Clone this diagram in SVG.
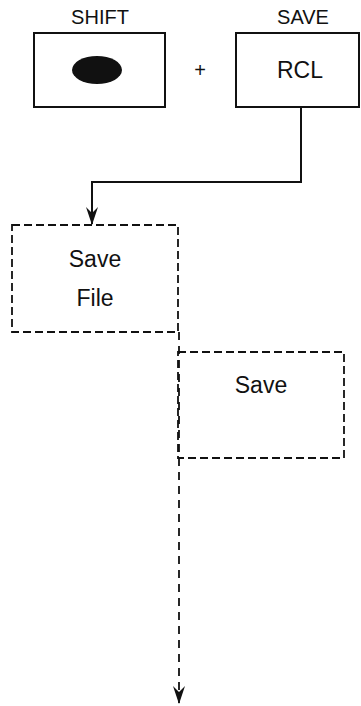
<svg xmlns="http://www.w3.org/2000/svg" width="361" height="706" viewBox="0 0 361 706">
<style>
.box{fill:none;stroke:#111;stroke-width:2}
.dbox{fill:none;stroke:#111;stroke-width:1.8;stroke-dasharray:8 4}
.lbl{font-family:"Liberation Sans",Arial,sans-serif;font-size:20px;fill:#111;text-anchor:middle}
.txt{font-family:"Liberation Sans",Arial,sans-serif;font-size:23px;fill:#111;text-anchor:middle}
.con{fill:none;stroke:#111;stroke-width:2}
.dcon{fill:none;stroke:#111;stroke-width:1.8;stroke-dasharray:8 6}
</style>
<defs>
<marker id="ah" markerWidth="18" markerHeight="12" refX="17" refY="6" orient="auto" markerUnits="userSpaceOnUse" viewBox="0 0 18 12">
<path d="M0,0 L18,6 L0,12 L6,6 Z" fill="#111"/>
</marker>
</defs>
<g id="shift">
<text class="lbl" x="100" y="24">SHIFT</text>
<rect class="box" x="34" y="33" width="131" height="74"/>
<ellipse cx="97" cy="70" rx="25" ry="14" fill="#111"/>
</g>
<g id="plus">
<text class="lbl" x="200" y="77">+</text>
</g>
<g id="rcl">
<text class="lbl" x="303" y="24">SAVE</text>
<rect class="box" x="236" y="33" width="123" height="74"/>
<text class="txt" x="300" y="78">RCL</text>
</g>
<g id="savefile">
<rect class="dbox" x="12" y="225" width="166" height="107"/>
<text class="txt" x="95" y="267">Save</text>
<text class="txt" x="95" y="306">File</text>
</g>
<g id="save">
<rect class="dbox" x="178" y="352" width="166" height="106"/>
<text class="txt" x="261" y="393">Save</text>
</g>
<g id="connectors">
<path class="con" d="M301,107 V182 H92 V224" marker-end="url(#ah)"/>
<path class="dcon" d="M179,332 V703" marker-end="url(#ah)"/>
</g>
</svg>
